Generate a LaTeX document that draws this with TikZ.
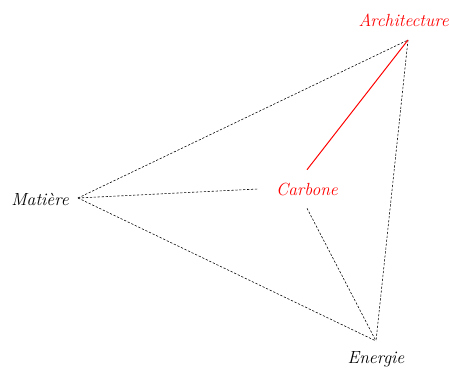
\documentclass[tikz,border=0pt]{standalone}
\usepackage{tikz}
\usetikzlibrary{positioning}

\tikzset{
  pole/.style={font=\fontsize{12.5}{15}\selectfont\itshape},
  link/.style={line width=0.4pt, dash pattern=on 1.6pt off 1.2pt},
  core/.style={pole, text=red, minimum width=2.45cm, minimum height=0.95cm, inner sep=0pt},
}

\begin{document}
\begin{tikzpicture}
  \useasboundingbox (0,0) rectangle (11.225,9.2);

  \coordinate (arch) at (10.2,8.2);
  \coordinate (mat) at (1.95,4.25);
  \coordinate (ener) at (9.4,0.675);

  \node [pole, text=red, inner xsep=0pt] (archlbl) at (10.09,8.7) {Architecture};
  \node [pole] (matlbl) at (1.0,4.22) {Mati\`ere};
  \node [pole] (enerlbl) at (9.4,0.22) {Energie};
  \node [core] (carb) at (7.675,4.475) {Carbone};

  \draw [link] (mat) -- (arch);
  \draw [link] (mat) -- (ener);
  \draw [link] (arch) -- (ener);
  \draw [link] (mat) -- (carb.west);
  \draw [link] (carb.south) -- (ener);
  \draw [red, line width=0.7pt] (carb.north) -- (arch);
\end{tikzpicture}
\end{document}
